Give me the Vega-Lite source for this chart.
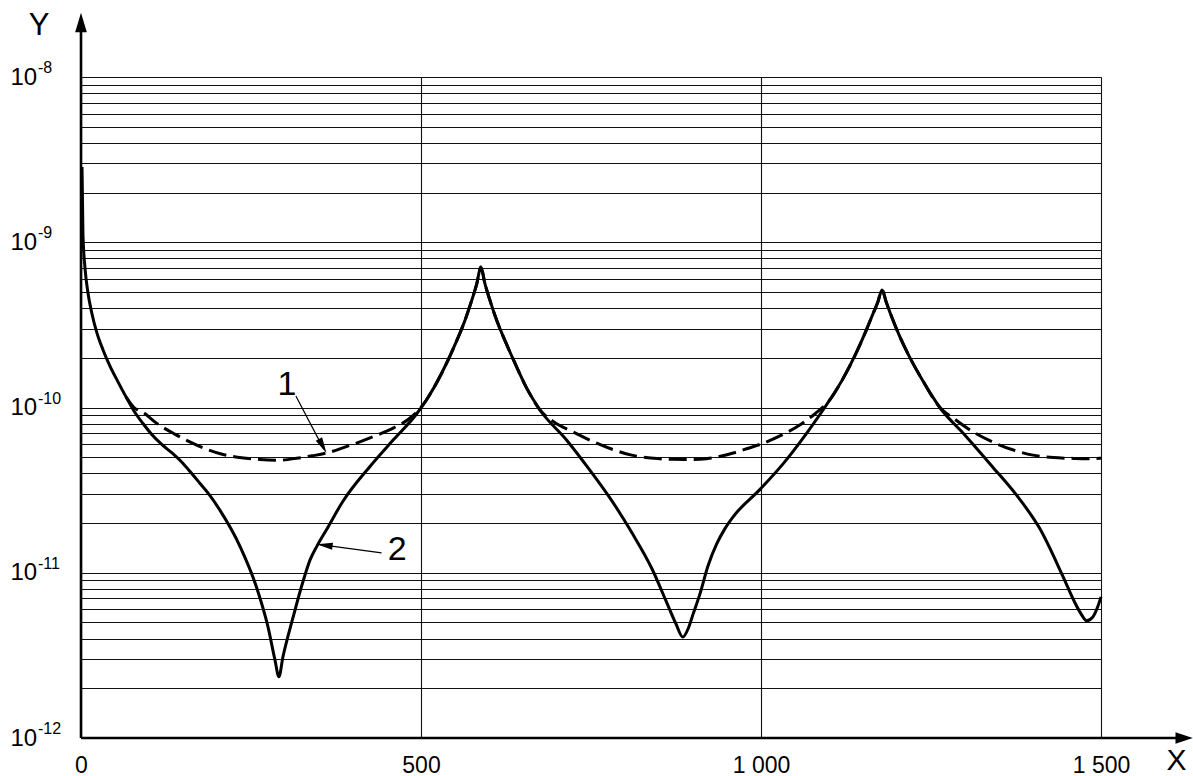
{
  "$schema": "https://vega.github.io/schema/vega-lite/v6.json",
  "width": 1020,
  "height": 661,
  "autosize": {"type": "none"},
  "padding": {"left": 81, "top": 77, "right": 92, "bottom": 38},
  "background": "white",
  "config": {"view": {"stroke": null}},
  "datasets": {
    "curves": [
      {"series": "2", "x": 1.5, "y": 2.85e-9},
      {"series": "2", "x": 2.9, "y": 1.107e-9},
      {"series": "2", "x": 5.9, "y": 6.98e-10},
      {"series": "2", "x": 10.3, "y": 4.93e-10},
      {"series": "2", "x": 16.2, "y": 3.68e-10},
      {"series": "2", "x": 23.5, "y": 2.82e-10},
      {"series": "2", "x": 32.4, "y": 2.23e-10},
      {"series": "2", "x": 42.6, "y": 1.78e-10},
      {"series": "2", "x": 54.4, "y": 1.43e-10},
      {"series": "2", "x": 66.2, "y": 1.16e-10},
      {"series": "2", "x": 77.9, "y": 9.53e-11},
      {"series": "2", "x": 91.2, "y": 8.0e-11},
      {"series": "2", "x": 104.4, "y": 6.84e-11},
      {"series": "2", "x": 119.1, "y": 5.96e-11},
      {"series": "2", "x": 133.8, "y": 5.31e-11},
      {"series": "2", "x": 148, "y": 4.68e-11},
      {"series": "2", "x": 161, "y": 4.07e-11},
      {"series": "2", "x": 175, "y": 3.47e-11},
      {"series": "2", "x": 190, "y": 2.92e-11},
      {"series": "2", "x": 204, "y": 2.4e-11},
      {"series": "2", "x": 234, "y": 1.44e-11},
      {"series": "2", "x": 258, "y": 8.2e-12},
      {"series": "2", "x": 275, "y": 4.7e-12},
      {"series": "2", "x": 285, "y": 3.0e-12},
      {"series": "2", "x": 291, "y": 2.35e-12},
      {"series": "2", "x": 297, "y": 3.1e-12},
      {"series": "2", "x": 312, "y": 5.4e-12},
      {"series": "2", "x": 327, "y": 9.0e-12},
      {"series": "2", "x": 337, "y": 1.2e-11},
      {"series": "2", "x": 347, "y": 1.45e-11},
      {"series": "2", "x": 361, "y": 1.82e-11},
      {"series": "2", "x": 385, "y": 2.7e-11},
      {"series": "2", "x": 425, "y": 4.4e-11},
      {"series": "2", "x": 459, "y": 6.35e-11},
      {"series": "2", "x": 494, "y": 9.2e-11},
      {"series": "2", "x": 508, "y": 1.11e-10},
      {"series": "2", "x": 530, "y": 1.6e-10},
      {"series": "2", "x": 550, "y": 2.4e-10},
      {"series": "2", "x": 565, "y": 3.4e-10},
      {"series": "2", "x": 575, "y": 4.5e-10},
      {"series": "2", "x": 582, "y": 5.6e-10},
      {"series": "2", "x": 588, "y": 7.08e-10},
      {"series": "2", "x": 594, "y": 5.62e-10},
      {"series": "2", "x": 602, "y": 4.37e-10},
      {"series": "2", "x": 612, "y": 3.31e-10},
      {"series": "2", "x": 624, "y": 2.51e-10},
      {"series": "2", "x": 636, "y": 1.94e-10},
      {"series": "2", "x": 655, "y": 1.32e-10},
      {"series": "2", "x": 675, "y": 9.66e-11},
      {"series": "2", "x": 714, "y": 6.36e-11},
      {"series": "2", "x": 748, "y": 4.19e-11},
      {"series": "2", "x": 780, "y": 2.75e-11},
      {"series": "2", "x": 810, "y": 1.75e-11},
      {"series": "2", "x": 840, "y": 1.05e-11},
      {"series": "2", "x": 860, "y": 6.8e-12},
      {"series": "2", "x": 875, "y": 4.9e-12},
      {"series": "2", "x": 885, "y": 4.08e-12},
      {"series": "2", "x": 893, "y": 4.6e-12},
      {"series": "2", "x": 900, "y": 5.6e-12},
      {"series": "2", "x": 910, "y": 7.4e-12},
      {"series": "2", "x": 922, "y": 1.1e-11},
      {"series": "2", "x": 935, "y": 1.5e-11},
      {"series": "2", "x": 947, "y": 1.85e-11},
      {"series": "2", "x": 959, "y": 2.18e-11},
      {"series": "2", "x": 1000, "y": 3.24e-11},
      {"series": "2", "x": 1033, "y": 4.59e-11},
      {"series": "2", "x": 1067, "y": 6.98e-11},
      {"series": "2", "x": 1101, "y": 1.11e-10},
      {"series": "2", "x": 1120, "y": 1.48e-10},
      {"series": "2", "x": 1140, "y": 2.14e-10},
      {"series": "2", "x": 1155, "y": 2.95e-10},
      {"series": "2", "x": 1165, "y": 3.72e-10},
      {"series": "2", "x": 1172, "y": 4.37e-10},
      {"series": "2", "x": 1178, "y": 5.14e-10},
      {"series": "2", "x": 1184, "y": 4.37e-10},
      {"series": "2", "x": 1192, "y": 3.55e-10},
      {"series": "2", "x": 1203, "y": 2.75e-10},
      {"series": "2", "x": 1218, "y": 2.04e-10},
      {"series": "2", "x": 1238, "y": 1.45e-10},
      {"series": "2", "x": 1263, "y": 1.0e-10},
      {"series": "2", "x": 1300, "y": 6.8e-11},
      {"series": "2", "x": 1340, "y": 4.4e-11},
      {"series": "2", "x": 1380, "y": 2.8e-11},
      {"series": "2", "x": 1410, "y": 1.85e-11},
      {"series": "2", "x": 1444, "y": 9.5e-12},
      {"series": "2", "x": 1460, "y": 6.8e-12},
      {"series": "2", "x": 1470, "y": 5.7e-12},
      {"series": "2", "x": 1479, "y": 5.13e-12},
      {"series": "2", "x": 1488, "y": 5.4e-12},
      {"series": "2", "x": 1495, "y": 6.2e-12},
      {"series": "2", "x": 1500, "y": 7.15e-12},
      {"series": "1", "x": 66.2, "y": 1.16e-10},
      {"series": "1", "x": 77.9, "y": 1.0e-10},
      {"series": "1", "x": 92, "y": 9.3e-11},
      {"series": "1", "x": 110, "y": 8.1e-11},
      {"series": "1", "x": 138, "y": 6.9e-11},
      {"series": "1", "x": 160, "y": 6.2e-11},
      {"series": "1", "x": 182, "y": 5.65e-11},
      {"series": "1", "x": 205, "y": 5.25e-11},
      {"series": "1", "x": 230, "y": 5.0e-11},
      {"series": "1", "x": 263, "y": 4.85e-11},
      {"series": "1", "x": 291, "y": 4.8e-11},
      {"series": "1", "x": 320, "y": 4.95e-11},
      {"series": "1", "x": 340, "y": 5.1e-11},
      {"series": "1", "x": 361, "y": 5.3e-11},
      {"series": "1", "x": 385, "y": 5.7e-11},
      {"series": "1", "x": 410, "y": 6.2e-11},
      {"series": "1", "x": 435, "y": 6.8e-11},
      {"series": "1", "x": 459, "y": 7.5e-11},
      {"series": "1", "x": 480, "y": 8.4e-11},
      {"series": "1", "x": 494, "y": 9.4e-11},
      {"series": "1", "x": 508, "y": 1.11e-10},
      {"series": "1", "x": 530, "y": 1.6e-10},
      {"series": "1", "x": 550, "y": 2.4e-10},
      {"series": "1", "x": 565, "y": 3.4e-10},
      {"series": "1", "x": 575, "y": 4.5e-10},
      {"series": "1", "x": 582, "y": 5.6e-10},
      {"series": "1", "x": 588, "y": 7.08e-10},
      {"series": "1", "x": 594, "y": 5.62e-10},
      {"series": "1", "x": 602, "y": 4.37e-10},
      {"series": "1", "x": 612, "y": 3.31e-10},
      {"series": "1", "x": 624, "y": 2.51e-10},
      {"series": "1", "x": 636, "y": 1.94e-10},
      {"series": "1", "x": 655, "y": 1.32e-10},
      {"series": "1", "x": 675, "y": 9.66e-11},
      {"series": "1", "x": 695, "y": 8.2e-11},
      {"series": "1", "x": 724, "y": 7.1e-11},
      {"series": "1", "x": 750, "y": 6.3e-11},
      {"series": "1", "x": 783, "y": 5.55e-11},
      {"series": "1", "x": 810, "y": 5.15e-11},
      {"series": "1", "x": 842, "y": 4.93e-11},
      {"series": "1", "x": 870, "y": 4.86e-11},
      {"series": "1", "x": 895, "y": 4.85e-11},
      {"series": "1", "x": 920, "y": 4.9e-11},
      {"series": "1", "x": 959, "y": 5.3e-11},
      {"series": "1", "x": 980, "y": 5.65e-11},
      {"series": "1", "x": 1003, "y": 6.07e-11},
      {"series": "1", "x": 1030, "y": 6.8e-11},
      {"series": "1", "x": 1057, "y": 7.84e-11},
      {"series": "1", "x": 1080, "y": 9.2e-11},
      {"series": "1", "x": 1101, "y": 1.11e-10},
      {"series": "1", "x": 1120, "y": 1.48e-10},
      {"series": "1", "x": 1140, "y": 2.14e-10},
      {"series": "1", "x": 1155, "y": 2.95e-10},
      {"series": "1", "x": 1165, "y": 3.72e-10},
      {"series": "1", "x": 1172, "y": 4.37e-10},
      {"series": "1", "x": 1178, "y": 5.14e-10},
      {"series": "1", "x": 1184, "y": 4.37e-10},
      {"series": "1", "x": 1192, "y": 3.55e-10},
      {"series": "1", "x": 1203, "y": 2.75e-10},
      {"series": "1", "x": 1218, "y": 2.04e-10},
      {"series": "1", "x": 1238, "y": 1.45e-10},
      {"series": "1", "x": 1263, "y": 1.0e-10},
      {"series": "1", "x": 1285, "y": 8.5e-11},
      {"series": "1", "x": 1310, "y": 7.2e-11},
      {"series": "1", "x": 1340, "y": 6.2e-11},
      {"series": "1", "x": 1370, "y": 5.55e-11},
      {"series": "1", "x": 1400, "y": 5.15e-11},
      {"series": "1", "x": 1430, "y": 4.98e-11},
      {"series": "1", "x": 1460, "y": 4.92e-11},
      {"series": "1", "x": 1480, "y": 4.9e-11},
      {"series": "1", "x": 1500, "y": 4.93e-11}
    ],
    "axisLines": [
      {"x": 0, "y": 1e-12, "x2": 1612, "y2": 1e-12},
      {"x": 0, "y": 1e-12, "x2": 0, "y2": 1.9e-8}
    ],
    "xHead": [{"x": 1635, "y": 1e-12}],
    "yHead": [{"x": 0, "y": 2.45e-8}],
    "leaders": [
      {"x": 316, "y": 1.175e-10, "x2": 357, "y2": 5.6e-11},
      {"x": 442, "y": 1.32e-11, "x2": 352, "y2": 1.48e-11}
    ],
    "head1": [{"x": 361, "y": 5.3e-11}],
    "head2": [{"x": 346.6, "y": 1.49e-11}],
    "labels": [
      {"x": 303, "y": 1.37e-10, "t": "1"},
      {"x": 465, "y": 1.37e-11, "t": "2"}
    ],
    "exponents": [
      {"x": 0, "y": 1e-8, "e": "-8"},
      {"x": 0, "y": 1e-9, "e": "-9"},
      {"x": 0, "y": 1e-10, "e": "-10"},
      {"x": 0, "y": 1e-11, "e": "-11"},
      {"x": 0, "y": 1e-12, "e": "-12"}
    ]
  },
  "encoding": {
    "x": {
      "field": "x",
      "type": "quantitative",
      "scale": {"domain": [0, 1500], "nice": false, "zero": false},
      "axis": {
        "values": [0, 500, 1000, 1500],
        "grid": true,
        "gridColor": "#111",
        "gridWidth": 1.1,
        "ticks": false,
        "tickSize": 0,
        "domain": false,
        "labelFlush": false,
        "labelOverlap": false,
        "labelExpr": "replace(format(datum.value, ','), ',', ' ')",
        "labelFont": "Liberation Sans",
        "labelFontSize": 23,
        "labelColor": "#000",
        "labelPadding": 16,
        "title": "X",
        "titleFont": "Liberation Sans",
        "titleFontSize": 30,
        "titleFontWeight": "normal",
        "titleColor": "#000",
        "titleX": 1095,
        "titleY": 22.5,
        "titleAlign": "center",
        "titleBaseline": "middle"
      }
    },
    "y": {
      "field": "y",
      "type": "quantitative",
      "scale": {"type": "log", "domain": [1e-12, 1e-8], "nice": false, "zero": false},
      "axis": {
        "values": [1e-12, 2e-12, 3e-12, 4e-12, 5e-12, 6e-12, 7e-12, 8e-12, 9e-12,
                   1e-11, 2e-11, 3e-11, 4e-11, 5e-11, 6e-11, 7e-11, 8e-11, 9e-11,
                   1e-10, 2e-10, 3e-10, 4e-10, 5e-10, 6e-10, 7e-10, 8e-10, 9e-10,
                   1e-9, 2e-9, 3e-9, 4e-9, 5e-9, 6e-9, 7e-9, 8e-9, 9e-9, 1e-8],
        "grid": true,
        "gridColor": "#111",
        "gridWidth": 1.1,
        "ticks": false,
        "tickSize": 0,
        "domain": false,
        "labelFlush": false,
        "labelOverlap": false,
        "labelBound": false,
        "labelExpr": "(datum.value === 1e-8 || datum.value === 1e-9 || datum.value === 1e-10 || datum.value === 1e-11 || datum.value === 1e-12) ? '10' : ''",
        "labelAlign": "left",
        "labelBaseline": "middle",
        "labelPadding": 71,
        "labelFont": "Liberation Sans",
        "labelFontSize": 24,
        "labelColor": "#000",
        "title": "Y",
        "titleFont": "Liberation Sans",
        "titleFontSize": 31,
        "titleFontWeight": "normal",
        "titleColor": "#000",
        "titleAngle": 0,
        "titleX": -42.5,
        "titleY": -52,
        "titleAlign": "center",
        "titleBaseline": "middle"
      }
    }
  },
  "layer": [
    {
      "data": {"name": "curves"},
      "transform": [{"filter": "datum.series === '1'"}],
      "mark": {"type": "line", "interpolate": "monotone", "color": "#000", "strokeWidth": 3, "strokeDash": [18, 7], "strokeCap": "butt"}
    },
    {
      "data": {"name": "curves"},
      "transform": [{"filter": "datum.series === '2'"}],
      "mark": {"type": "line", "interpolate": "monotone", "color": "#000", "strokeWidth": 3, "strokeCap": "butt"}
    },
    {
      "data": {"name": "axisLines"},
      "mark": {"type": "rule", "color": "#000", "strokeWidth": 2.6},
      "encoding": {"x2": {"field": "x2"}, "y2": {"field": "y2"}}
    },
    {
      "data": {"name": "xHead"},
      "mark": {"type": "point", "shape": "M0,0L0.65,2L-0.65,2Z", "filled": true, "size": 300, "angle": 90, "color": "#000", "opacity": 1, "strokeWidth": 0}
    },
    {
      "data": {"name": "yHead"},
      "mark": {"type": "point", "shape": "M0,0L0.6,2L-0.6,2Z", "filled": true, "size": 380, "angle": 0, "color": "#000", "opacity": 1, "strokeWidth": 0}
    },
    {
      "data": {"name": "leaders"},
      "mark": {"type": "rule", "color": "#000", "strokeWidth": 1.2},
      "encoding": {"x2": {"field": "x2"}, "y2": {"field": "y2"}}
    },
    {
      "data": {"name": "head1"},
      "mark": {"type": "point", "shape": "M0,0L0.45,2L-0.45,2Z", "filled": true, "size": 256, "angle": 151.8, "color": "#000", "opacity": 1, "strokeWidth": 0}
    },
    {
      "data": {"name": "head2"},
      "mark": {"type": "point", "shape": "M0,0L0.45,2L-0.45,2Z", "filled": true, "size": 256, "angle": 277.6, "color": "#000", "opacity": 1, "strokeWidth": 0}
    },
    {
      "data": {"name": "labels"},
      "mark": {"type": "text", "font": "Liberation Sans", "fontSize": 34, "color": "#000", "align": "center", "baseline": "middle"},
      "encoding": {"text": {"field": "t"}}
    },
    {
      "data": {"name": "exponents"},
      "mark": {"type": "text", "font": "Liberation Sans", "fontSize": 16, "color": "#000", "align": "left", "baseline": "middle", "dx": -43, "dy": -9},
      "encoding": {"text": {"field": "e"}}
    }
  ]
}
